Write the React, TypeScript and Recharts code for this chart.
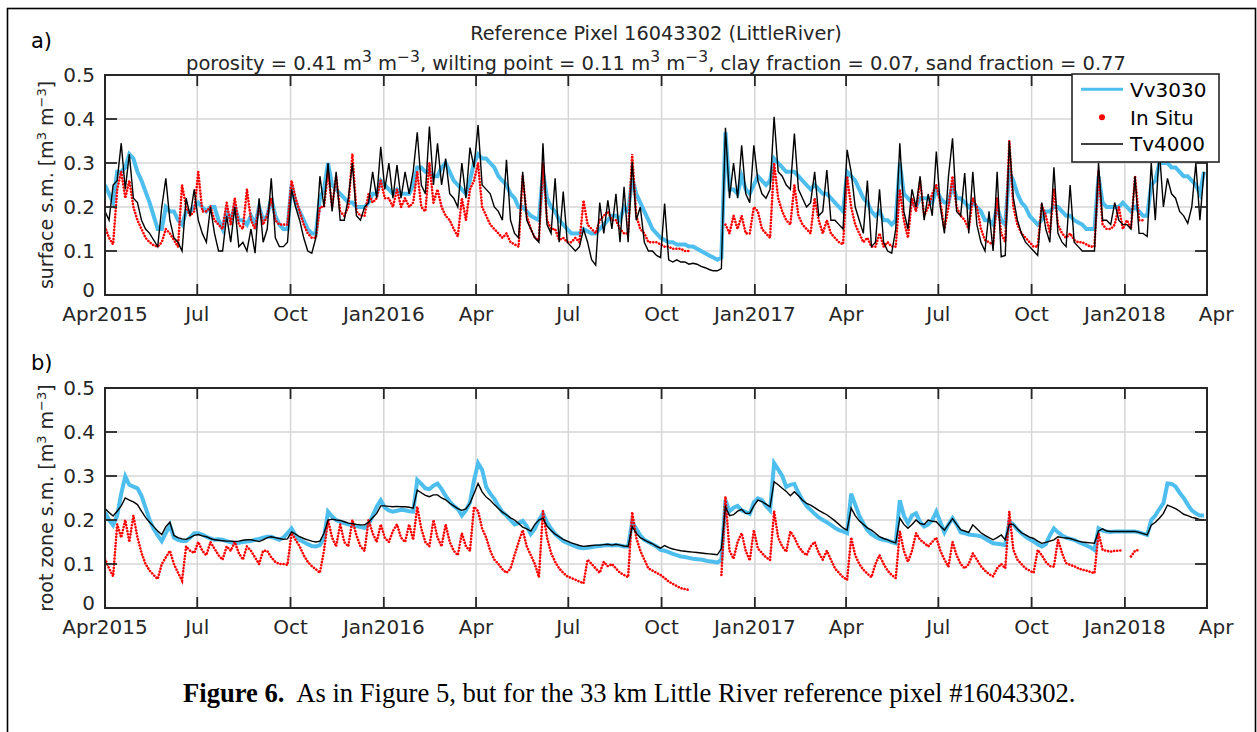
import React from 'react';
import { LineChart, Line, XAxis, YAxis, CartesianGrid } from 'recharts';

const N = null;
const STEP_DAYS = 4;

const X_TICK_DAYS = [0, 91, 183, 275, 366, 457, 549, 641, 731, 822, 914, 1006, 1096];
const X_TICK_LABELS = ['Apr2015', 'Jul', 'Oct', 'Jan2016', 'Apr', 'Jul', 'Oct', 'Jan2017', 'Apr', 'Jul', 'Oct', 'Jan2018', 'Apr'];
const X_GRID_DAYS = [91, 183, 275, 366, 457, 549, 641, 731, 822, 914, 1006];
const X_END_DAY = 1087;
const Y_TICKS = [0, 0.1, 0.2, 0.3, 0.4, 0.5];
const Y_TICK_LABELS = ['0', '0.1', '0.2', '0.3', '0.4', '0.5'];
const Y_GRID = [0.1, 0.2, 0.3, 0.4];

// ---- panel a: surface soil moisture ----
const SURF_VV = [
  .25, .23, .21, .28, .28, .29, .32, .31, .28, .26,
  .235, .21, .18, .15, .15, .2, .19, .19, .17, .16,
  .19, .19, .2, .21, .2, .19, .2, .2, .17, .15,
  .19, .17, .2, .17, .17, .16, .18, .16, .2, .17,
  .18, .22, .18, .16, .15, .15, .25, .21, .19, .17,
  .15, .14, .14, .22, .24, .3, .25, .24, .23, .22,
  .21, .21, .2, .2, .2, .21, .23, .23, .26, .25,
  .24, .23, .24, .23, .23, .23, .25, .29, .29, .28,
  .28, .27, .27, .29, .3, .28, .26, .25, .24, .23,
  .26, .3, .32, .31, .31, .3, .29, .27, .26, .25,
  .23, .22, .2, .2, .19, .18, .175, .17, .28, .22,
  .2, .19, .17, .16, .15, .14, .14, .14, .15, .145,
  .14, .14, .15, .16, .17, .18, .18, .17, .2, .19,
  .265, .23, .21, .19, .17, .15, .14, .13, .125, .12,
  .12, .115, .115, .115, .11, .11, .105, .1, .095, .09,
  .085, .08, .085, .37, .24, .24, .23, .27, .24, .23,
  .25, .27, .26, .25, .26, .31, .3, .29, .28, .28,
  .28, .27, .26, .25, .24, .25, .24, .23, .23, .22,
  .21, .2, .19, .28, .27, .26, .24, .22, .21, .19,
  .18, .19, .17, .17, .16, .17, .3, .23, .22, .21,
  .2, .22, .22, .22, .21, .24, .22, .21, .21, .25,
  .22, .22, .21, .2, .21, .2, .19, .17, .17, .16,
  .2, .17, .16, .28, .26, .23, .21, .2, .18, .17,
  .16, .17, .19, .19, .2, .2, .19, .18, .18, .17,
  .165, .16, .15, .15, .15, .27, .21, .2, .2, .2,
  .2, .21, .2, .19, .2, .19, .18, .18, .25, .26,
  .3, .3, .3, .29, .29, .28, .27, .27, .26, .25,
  .23, .28,
];

const SURF_INSITU = [
  .155, .13, .115, .24, .28, .22, .26, .2, .17, .15,
  .13, .12, .113, .11, .12, .15, .14, .125, .11, .25,
  .2, .18, .19, .28, .19, .19, .2, .17, .16, .15,
  .21, .16, .22, .16, .15, .24, .17, .15, .2, .16,
  .18, .22, .17, .16, .16, .16, .26, .22, .19, .16,
  .14, .13, .13, .2, .2, .28, .2, .27, .19, .18,
  .2, .32, .19, .18, .18, .23, .21, .22, .26, .22,
  .22, .2, .24, .2, .22, .2, .21, .28, .2, .19,
  .3, .21, .24, .2, .18, .17, .15, .133, .22, .17,
  .24, .26, .3, .2, .18, .16, .15, .14, .13, .14,
  .12, .115, .11, .27, .18, .15, .13, .125, .3, .17,
  .15, .15, .125, .13, .12, .12, .13, .12, .215, .16,
  .15, .14, .17, .18, .19, .17, .17, .15, .14, .14,
  .32, .18, .15, .14, .12, .12, .12, .115, .11, .11,
  .105, .105, .105, .1, .1, N, N, N, N, N,
  N, N, N, .16, .14, .18, .15, .18, .14, .14,
  .2, .19, .15, .14, .13, .3, .22, .19, .17, .16,
  .25, .18, .16, .15, .14, .22, .17, .14, .17, .14,
  .13, .12, .115, .27, .2, .16, .14, .12, .13, .11,
  .11, .14, .11, .12, .11, .11, .24, .17, .13, .22,
  .19, .26, .18, .2, .23, .25, .21, .15, .2, .27,
  .2, .18, .17, .15, .22, .2, .15, .125, .12, .115,
  .22, .14, .12, .35, .2, .16, .14, .13, .12, .11,
  .11, .205, .18, .14, .24, .16, .14, .13, .14, .125,
  .12, .12, .115, .11, .11, .28, .16, .15, .15, .16,
  .2, .15, .17, .15, .27, .17, .17, N, N, N,
  N, N, N, N, N, N, N, N, N, N,
  N, N,
];

const SURF_TV = [
  .19, .17, .25, .26, .345, .24, .32, .22, .21, .17,
  .15, .14, .125, .11, .2, .265, .17, .13, .12, .1,
  .22, .18, .24, .17, .14, .12, .2, .14, .1, .1,
  .18, .12, .2, .11, .12, .1, .15, .095, .22, .12,
  .15, .265, .13, .11, .11, .12, .24, .2, .17, .13,
  .1, .095, .13, .27, .2, .3, .19, .28, .17, .17,
  .22, .3, .18, .17, .2, .21, .28, .22, .337, .24,
  .3, .22, .295, .22, .28, .23, .28, .37, .25, .23,
  .383, .25, .345, .25, .31, .23, .22, .2, .3, .22,
  .335, .29, .386, .25, .24, .23, .2, .19, .17, .307,
  .17, .14, .13, .28, .17, .15, .13, .12, .345, .16,
  .14, .265, .12, .235, .12, .11, .1, .11, .15, .12,
  .08, .068, .21, .14, .215, .15, .23, .12, .246, .12,
  .303, .17, .2, .12, .1, .1, .09, .085, .208, .08,
  .075, .08, .075, .075, .07, .072, .07, .065, .062, .058,
  .055, .055, .06, .38, .22, .3, .22, .34, .23, .21,
  .34, .26, .23, .22, .24, .405, .28, .27, .25, .24,
  .367, .24, .22, .2, .21, .28, .18, .19, .284, .17,
  .17, .16, .15, .33, .28, .2, .17, .14, .26, .11,
  .12, .24, .12, .1, .095, .15, .345, .19, .15, .24,
  .2, .27, .17, .23, .18, .326, .2, .14, .27, .356,
  .19, .18, .277, .14, .28, .16, .12, .1, .19, .1,
  .28, .087, .09, .35, .22, .17, .14, .12, .11, .1,
  .09, .21, .15, .12, .29, .14, .12, .11, .25, .12,
  .11, .1, .1, .1, .1, .3, .17, .17, .16, .21,
  .17, .16, .16, .15, .27, .14, .14, .133, .3, .17,
  .33, .2, .265, .23, .22, .19, .18, .163, .2, .3,
  .17, .28,
];

// ---- panel b: root zone soil moisture ----
const ROOT_VV = [
  .218, .2, .188, .21, .26, .299, .28, .276, .272, .255,
  .228, .2, .18, .165, .152, .17, .188, .16, .155, .152,
  .152, .16, .17, .17, .167, .162, .158, .155, .156, .155,
  .152, .149, .147, .148, .15, .151, .152, .155, .157, .16,
  .162, .162, .158, .155, .16, .17, .181, .165, .155, .15,
  .145, .141, .14, .143, .16, .219, .208, .2, .196, .193,
  .19, .188, .186, .184, .182, .19, .21, .23, .245, .228,
  .222, .219, .221, .223, .222, .22, .219, .291, .282, .272,
  .27, .278, .283, .27, .255, .242, .232, .225, .21, .222,
  .24, .29, .329, .314, .275, .26, .248, .232, .218, .21,
  .2, .19, .193, .198, .186, .168, .18, .2, .215, .195,
  .18, .168, .16, .152, .148, .144, .14, .137, .136, .137,
  .138, .14, .141, .142, .143, .142, .143, .142, .14, .14,
  .195, .18, .165, .155, .15, .145, .14, .132, .13, .127,
  .123, .12, .117, .116, .114, .112, .111, .11, .108, .106,
  .105, .103, .11, .245, .22, .228, .232, .222, .218, .214,
  .24, .249, .245, .232, .222, .329, .315, .3, .275, .28,
  .282, .262, .245, .232, .223, .214, .206, .2, .195, .189,
  .182, .177, .174, .17, .26, .235, .21, .192, .177, .168,
  .162, .157, .155, .153, .15, .147, .245, .21, .193, .21,
  .215, .195, .185, .19, .2, .219, .195, .172, .19, .204,
  .19, .172, .17, .167, .166, .165, .163, .158, .152, .147,
  .146, .145, .143, .196, .19, .178, .17, .162, .156, .151,
  .145, .14, .145, .165, .181, .172, .165, .16, .157, .155,
  .15, .146, .142, .138, .132, .181, .176, .174, .173, .174,
  .174, .174, .174, .174, .174, .172, .169, .166, .2, .21,
  .225, .238, .283, .282, .276, .262, .25, .235, .222, .215,
  .21, .21,
];

const ROOT_INSITU = [
  .112, .09, .072, .19, .16, .2, .15, .21, .16, .125,
  .1, .085, .075, .066, .1, .115, .13, .1, .08, .062,
  .14, .13, .125, .15, .13, .12, .15, .135, .12, .11,
  .14, .13, .15, .125, .11, .14, .13, .115, .1, .13,
  .13, .115, .105, .1, .1, .098, .17, .155, .14, .12,
  .105, .095, .088, .08, .13, .2, .16, .14, .19, .15,
  .14, .2, .165, .14, .13, .2, .17, .15, .19, .16,
  .15, .175, .19, .16, .15, .19, .155, .23, .18, .15,
  .14, .2, .16, .14, .19, .15, .13, .12, .17, .14,
  .13, .23, .22, .18, .16, .13, .11, .1, .088, .08,
  .09, .12, .15, .177, .14, .12, .1, .07, .22, .16,
  .125, .105, .09, .08, .072, .068, .064, .06, .056, .11,
  .1, .09, .08, .105, .095, .1, .09, .08, .075, .07,
  .218, .16, .13, .11, .09, .085, .08, .075, .068, .06,
  .055, .05, .045, .043, .041, N, N, N, N, N,
  N, N, .075, .253, .13, .112, .15, .17, .13, .108,
  .177, .135, .125, .115, .109, .22, .16, .14, .128, .174,
  .16, .14, .128, .12, .14, .15, .125, .11, .13, .11,
  .09, .08, .07, .064, .16, .12, .1, .087, .078, .07,
  .1, .12, .1, .085, .075, .068, .174, .13, .105, .13,
  .17, .155, .148, .14, .15, .16, .13, .11, .094, .15,
  .12, .1, .09, .1, .124, .11, .095, .085, .077, .072,
  .09, .1, .09, .219, .132, .11, .1, .09, .085, .08,
  .132, .12, .105, .095, .094, .155, .125, .102, .098, .095,
  .09, .087, .085, .082, .079, .17, .132, .13, .128, .13,
  .13, .132, N, .117, .13, .132, N, N, N, N,
  N, N, N, N, N, N, N, N, N, N,
  N, N,
];

const ROOT_TV = [
  .226, .217, .209, .22, .232, .25, .245, .241, .235, .22,
  .206, .195, .185, .175, .167, .185, .195, .165, .16, .157,
  .156, .16, .165, .167, .164, .162, .158, .155, .154, .153,
  .152, .152, .151, .152, .154, .155, .155, .153, .151, .155,
  .16, .162, .16, .158, .156, .157, .173, .168, .162, .158,
  .155, .152, .15, .152, .17, .2, .202, .2, .199, .196,
  .193, .192, .19, .189, .189, .195, .205, .215, .232, .232,
  .231, .23, .231, .23, .23, .229, .227, .268, .262, .256,
  .253, .257, .257, .25, .246, .238, .232, .226, .222, .225,
  .238, .26, .283, .264, .252, .245, .235, .226, .218, .212,
  .205, .2, .192, .184, .18, .175, .19, .2, .204, .186,
  .176, .168, .162, .156, .152, .148, .145, .142, .14, .141,
  .142, .143, .143, .144, .145, .143, .145, .143, .141, .14,
  .185, .17, .16, .155, .15, .146, .14, .136, .142, .137,
  .134, .132, .13, .129, .128, .127, .126, .125, .124, .123,
  .122, .121, .135, .23, .21, .212, .22, .224, .215, .215,
  .232, .245, .242, .236, .23, .287, .28, .272, .265, .255,
  .264, .255, .245, .238, .234, .228, .222, .217, .212, .205,
  .198, .19, .182, .177, .227, .21, .198, .19, .182, .177,
  .17, .162, .158, .155, .151, .148, .204, .19, .181, .19,
  .2, .192, .19, .2, .197, .196, .186, .177, .19, .203,
  .19, .178, .175, .172, .189, .18, .171, .165, .16, .155,
  .16, .166, .155, .19, .19, .18, .171, .166, .161, .158,
  .152, .147, .149, .152, .155, .162, .16, .159, .158, .155,
  .152, .15, .149, .148, .147, .175, .18, .175, .174, .174,
  .174, .174, .174, .174, .174, .172, .169, .166, .188, .195,
  .204, .215, .234, .23, .226, .22, .213, .21, .206, .204,
  .201, .2,
];

const VV_COLOR = '#4DBEEE';
const IS_COLOR = '#FF0000';
const TV_COLOR = '#000000';
const AXIS_COLOR = '#262626';
const FONT = "'DejaVu Sans', Verdana, sans-serif";

const PLOT_LEFT = 105;
const PLOT_W = 1102;
const PLOT_H = 220;
const PANEL_A_TOP = 0;
const PANEL_B_TOP = 313;
const CHART_MARGIN_TOP = 75;
const TICK_FONT = 20;

type Row = { day: number; vv: number | null; ins: number | null; tv: number | null };

function buildRows(vv: (number | null)[], ins: (number | null)[], tv: (number | null)[]): Row[] {
  return vv.map((v, i) => ({ day: i * STEP_DAYS, vv: v, ins: ins[i] ?? null, tv: tv[i] ?? null }));
}

const SURF_ROWS = buildRows(SURF_VV, SURF_INSITU, SURF_TV);
const ROOT_ROWS = buildRows(ROOT_VV, ROOT_INSITU, ROOT_TV);

function XTick(props: any) {
  const { x, y, payload } = props;
  const day = payload.value;
  const label = X_TICK_LABELS[X_TICK_DAYS.indexOf(day)];
  const inside = day > 0 && day < X_END_DAY;
  return (
    <g>
      {inside && <line x1={x} x2={x} y1={y} y2={y - 11} stroke={AXIS_COLOR} strokeWidth={1.8} />}
      {inside && <line x1={x} x2={x} y1={y - PLOT_H} y2={y - PLOT_H + 11} stroke={AXIS_COLOR} strokeWidth={1.8} />}
      <text x={x} y={y + 25.5} textAnchor="middle" fontSize={TICK_FONT} fontFamily={FONT} fill={AXIS_COLOR}>
        {label}
      </text>
    </g>
  );
}

function YTick(props: any) {
  const { x, y, payload } = props;
  const v = payload.value;
  const label = Y_TICK_LABELS[Y_TICKS.indexOf(v)];
  const inside = v > 0 && v < 0.5;
  const baselineShift = v === 0 ? 2 : 7;
  return (
    <g>
      {inside && <line x1={x} x2={x + 12} y1={y} y2={y} stroke={AXIS_COLOR} strokeWidth={1.8} />}
      {inside && <line x1={x + PLOT_W - 12} x2={x + PLOT_W} y1={y} y2={y} stroke={AXIS_COLOR} strokeWidth={1.8} />}
      <text x={x - 10} y={y + baselineShift} textAnchor="end" fontSize={TICK_FONT} fontFamily={FONT} fill={AXIS_COLOR}>
        {label}
      </text>
    </g>
  );
}

function Panel({ rows, top }: { rows: Row[]; top: number }) {
  return (
    <div style={{ position: 'absolute', left: 0, top }}>
      <LineChart width={1257} height={330} data={rows} margin={{ top: CHART_MARGIN_TOP, right: 50, bottom: 0, left: 45 }}>
        <CartesianGrid stroke="#d6d6d6" strokeWidth={1.5} verticalValues={X_GRID_DAYS} horizontalValues={Y_GRID} />
        <XAxis
          dataKey="day"
          type="number"
          domain={[0, X_END_DAY]}
          allowDataOverflow
          ticks={X_TICK_DAYS}
          interval={0}
          tick={(p: any) => <XTick {...p} />}
          tickSize={0}
          tickMargin={0}
          tickLine={false}
          axisLine={false}
          height={35}
        />
        <YAxis
          type="number"
          domain={[0, 0.5]}
          allowDataOverflow
          ticks={Y_TICKS}
          interval={0}
          tick={(p: any) => <YTick {...p} />}
          tickSize={0}
          tickMargin={0}
          tickLine={false}
          axisLine={false}
          width={60}
        />
        <Line dataKey="vv" type="linear" stroke={VV_COLOR} strokeWidth={4} dot={false} activeDot={false} isAnimationActive={false} />
        <Line
          dataKey="ins"
          type="linear"
          stroke={IS_COLOR}
          strokeWidth={2.6}
          strokeDasharray="0.1 3"
          strokeLinecap="round"
          dot={false}
          activeDot={false}
          isAnimationActive={false}
        />
        <Line dataKey="tv" type="linear" stroke={TV_COLOR} strokeWidth={1.4} dot={false} activeDot={false} isAnimationActive={false} />
      </LineChart>
    </div>
  );
}

function UnitLabel({ x, y, text }: { x: number; y: number; text: string }) {
  return (
    <text transform={`translate(${x},${y}) rotate(-90)`} textAnchor="middle" fontSize={19} fontFamily={FONT} fill={AXIS_COLOR}>
      {text} [m<tspan dy={-7} fontSize={13}>3</tspan>
      <tspan dy={7}> m</tspan>
      <tspan dy={-7} fontSize={13}>−3</tspan>
      <tspan dy={7}>]</tspan>
    </text>
  );
}

function Overlay() {
  const aTop = PANEL_A_TOP + CHART_MARGIN_TOP;
  const bTop = PANEL_B_TOP + CHART_MARGIN_TOP;
  const lx = 1072;
  const ly = 74;
  return (
    <svg width={1257} height={732} style={{ position: 'absolute', left: 0, top: 0, pointerEvents: 'none' }}>
      <rect x={7.5} y={8.5} width={1248} height={740} fill="none" stroke="#000" strokeWidth={1.6} />
      <rect x={PLOT_LEFT} y={aTop} width={PLOT_W} height={PLOT_H} fill="none" stroke={AXIS_COLOR} strokeWidth={2} />
      <rect x={PLOT_LEFT} y={bTop} width={PLOT_W} height={PLOT_H} fill="none" stroke={AXIS_COLOR} strokeWidth={2} />

      <text x={31} y={48} fontSize={21} fontFamily={FONT} fill="#000">a)</text>
      <text x={31} y={370} fontSize={21} fontFamily={FONT} fill="#000">b)</text>

      <text x={656} y={40} textAnchor="middle" fontSize={19.3} fontFamily={FONT} fill={AXIS_COLOR}>
        Reference Pixel 16043302 (LittleRiver)
      </text>
      <text x={656} y={70} textAnchor="middle" fontSize={19.5} fontFamily={FONT} fill={AXIS_COLOR}>
        porosity = 0.41 m<tspan dy={-8} fontSize={15.5}>3</tspan>
        <tspan dy={8}> m</tspan>
        <tspan dy={-8} fontSize={15.5}>−3</tspan>
        <tspan dy={8}>, wilting point = 0.11 m</tspan>
        <tspan dy={-8} fontSize={15.5}>3</tspan>
        <tspan dy={8}> m</tspan>
        <tspan dy={-8} fontSize={15.5}>−3</tspan>
        <tspan dy={8}>, clay fraction = 0.07, sand fraction = 0.77</tspan>
      </text>

      <UnitLabel x={53} y={aTop + PLOT_H / 2} text="surface s.m." />
      <UnitLabel x={53} y={bTop + PLOT_H / 2} text="root zone s.m." />

      <g transform={`translate(${lx},${ly})`}>
        <rect x={0} y={0} width={147} height={88} fill="#fff" stroke={AXIS_COLOR} strokeWidth={1.6} />
        <line x1={9} x2={51} y1={15.3} y2={15.3} stroke={VV_COLOR} strokeWidth={3} />
        <text x={58} y={22.5} fontSize={20} fontFamily={FONT} fill="#000">Vv3030</text>
        <circle cx={30} cy={43.3} r={3} fill={IS_COLOR} />
        <text x={58} y={50.5} fontSize={20} fontFamily={FONT} fill="#000">In Situ</text>
        <line x1={9} x2={51} y1={70} y2={70} stroke={TV_COLOR} strokeWidth={1.4} />
        <text x={58} y={77.3} fontSize={20} fontFamily={FONT} fill="#000">Tv4000</text>
      </g>

      <text x={183} y={702} fontSize={26.6} fontFamily="'Liberation Serif', 'Times New Roman', serif" fill="#000" xmlSpace="preserve" style={{ whiteSpace: 'pre' }}>
        <tspan fontWeight="bold">Figure 6.</tspan>
        <tspan>{'  As in Figure 5, but for the 33 km Little River reference pixel #16043302.'}</tspan>
      </text>
    </svg>
  );
}

export default function App() {
  return (
    <div style={{ position: 'relative', width: 1257, height: 732, background: '#fff', overflow: 'hidden' }}>
      <style>{'body{margin:0;background:#fff;}'}</style>
      <Panel rows={SURF_ROWS} top={PANEL_A_TOP} />
      <Panel rows={ROOT_ROWS} top={PANEL_B_TOP} />
      <Overlay />
    </div>
  );
}
